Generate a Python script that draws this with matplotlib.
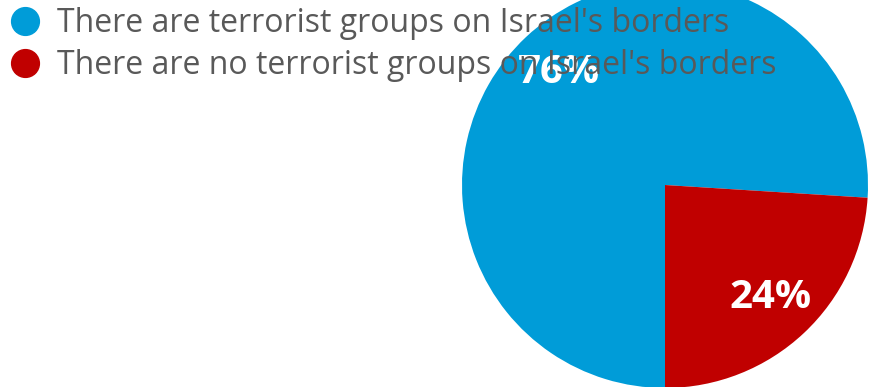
import matplotlib.pyplot as plt
from matplotlib.lines import Line2D

# dados do grafico
labels = ["There are terrorist groups on Israel's borders",
          "There are no terrorist groups on Israel's borders"]
values = [76, 24]
colors = ['#009CD8', '#C00000']

fig = plt.figure(figsize=(8.69, 3.87), dpi=100)

# eixo quadrado posicionado para a pizza ficar na direita, cortada em cima
W, H = 869, 387
cx, cy, r = 665, 185, 203
ax = fig.add_axes([(cx - r) / W, (H - cy - r) / H, 2 * r / W, 2 * r / H])
ax.pie(values, colors=colors, startangle=360 * values[1] / 100 - 90,
       radius=1, autopct='%d%%', pctdistance=0.76,
       wedgeprops={'linewidth': 0},
       textprops={'color': 'white', 'fontsize': 29, 'fontweight': 'bold',
                  'family': 'Open Sans'})
ax.set_xlim(-1, 1)
ax.set_ylim(-1, 1)
ax.set_aspect('auto')
ax.axis('off')

handles = [Line2D([], [], marker='o', linestyle='', markersize=20,
                  markerfacecolor=c, markeredgecolor=c) for c in colors]
fig.legend(handles, labels, loc='upper left',
           bbox_to_anchor=(9 / W, 1 - 7 / H),
           frameon=False, borderpad=0, borderaxespad=0,
           handlelength=1, handletextpad=0.5, labelspacing=0.28,
           prop={'family': 'Open Sans', 'size': 23}, labelcolor='#595959')

fig.savefig('out.png', dpi=100)
